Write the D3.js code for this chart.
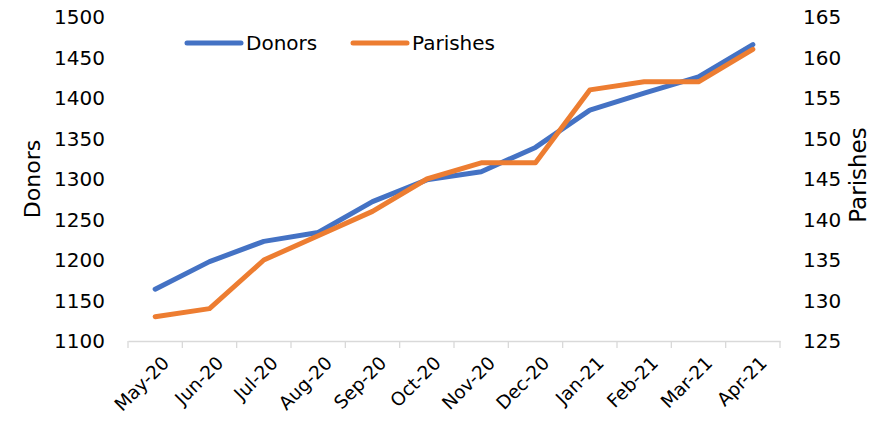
<!DOCTYPE html>
<html><head><meta charset="utf-8">
<script src="https://cdn.jsdelivr.net/npm/d3@7"></script>
<style>body{margin:0;background:#fff}svg{display:block}text{font-family:"DejaVu Sans",sans-serif;fill:#000}</style>
</head><body><svg id="c" width="887" height="429"></svg>
<script>
const months = ["May-20","Jun-20","Jul-20","Aug-20","Sep-20","Oct-20","Nov-20","Dec-20","Jan-21","Feb-21","Mar-21","Apr-21"];
const donors = [1164,1198,1223,1234,1272,1299,1309,1339,1385,1406,1426,1466];
const parishes = [128,129,135,138,141,145,147,147,156,157,157,161];
const leftTicks = [1100,1150,1200,1250,1300,1350,1400,1450,1500];
const rightTicks = [125,130,135,140,145,150,155,160,165];

const svg = d3.select("#c");
const L = 128, R = 780, T = 17, B = 341;
const x = d3.scaleBand().domain(months).range([L, R]);
const yL = d3.scaleLinear().domain([1100,1500]).range([B, T]);
const yR = d3.scaleLinear().domain([125,165]).range([B, T]);

// x axis
const xa = svg.append("g").attr("transform",`translate(0,${B})`)
  .call(d3.axisBottom(x).tickSize(0).tickFormat(""));
xa.select(".domain").attr("stroke","#d9d9d9").attr("stroke-width",1.3);
const bounds = months.map(m => x(m)).concat([R]);
svg.append("g").selectAll("line").data(bounds).join("line")
  .attr("x1",d=>d).attr("x2",d=>d).attr("y1",B).attr("y2",B+7)
  .attr("stroke","#d9d9d9").attr("stroke-width",1.3);
svg.append("g").selectAll("text").data(months).join("text")
  .attr("transform",d=>`translate(${x(d)+x.bandwidth()/2+6},${B+14}) rotate(-45)`)
  .attr("text-anchor","end").attr("dy","0.7em").style("font-size","18.5px").text(d=>d);

// left axis labels
svg.append("g").selectAll("text").data(leftTicks).join("text")
  .attr("x",105).attr("y",d=>yL(d)).attr("dy","0.35em").attr("text-anchor","end")
  .style("font-size","20px").text(d=>d);
// right axis labels
svg.append("g").selectAll("text").data(rightTicks).join("text")
  .attr("x",803).attr("y",d=>yR(d)).attr("dy","0.35em").attr("text-anchor","start")
  .style("font-size","20px").text(d=>d);

// axis titles
svg.append("text").attr("transform","translate(40,179) rotate(-90)").attr("text-anchor","middle")
  .style("font-size","22px").text("Donors");
svg.append("text").attr("transform","translate(866,175) rotate(-90)").attr("text-anchor","middle")
  .style("font-size","23px").text("Parishes");

const cx = d => x(d)+x.bandwidth()/2;
const lineD = d3.line().x((d,i)=>cx(months[i])).y(d=>yL(d));
const lineP = d3.line().x((d,i)=>cx(months[i])).y(d=>yR(d));
svg.append("path").datum(donors).attr("d",lineD).attr("fill","none")
  .attr("stroke","#4472C4").attr("stroke-width",5).attr("stroke-linecap","round").attr("stroke-linejoin","round");
svg.append("path").datum(parishes).attr("d",lineP).attr("fill","none")
  .attr("stroke","#ED7D31").attr("stroke-width",5).attr("stroke-linecap","round").attr("stroke-linejoin","round");

// legend
const leg = [{n:"Donors",c:"#4472C4",x:187},{n:"Parishes",c:"#ED7D31",x:353}];
const lg = svg.append("g");
leg.forEach(l=>{
  lg.append("line").attr("x1",l.x).attr("x2",l.x+54).attr("y1",43).attr("y2",43)
    .attr("stroke",l.c).attr("stroke-width",5).attr("stroke-linecap","round");
  lg.append("text").attr("x",l.x+59).attr("y",43).attr("dy","0.35em").style("font-size","20px").text(l.n);
});
</script></body></html>
